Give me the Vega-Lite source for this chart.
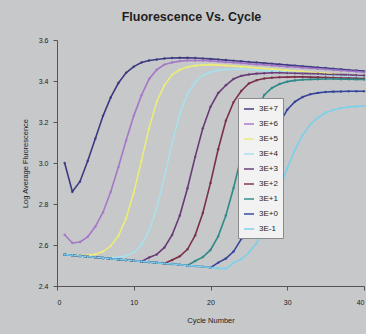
{
  "$schema": "https://vega.github.io/schema/vega-lite/v6.json",
  "width": 307,
  "height": 246,
  "autosize": {"type": "none"},
  "padding": {"left": 57, "top": 40, "right": 2, "bottom": 48},
  "background": "#c6c8ca",
  "title": {"text": "Fluorescence Vs. Cycle", "fontSize": 12.5, "fontWeight": "bold", "font": "Liberation Sans", "color": "#1e1e1e", "anchor": "middle", "dx": -19, "offset": 13},
  "data": {"values": [
    {"s":"3E+7","c":1,"v":3.00},{"s":"3E+7","c":2,"v":2.86},{"s":"3E+7","c":3,"v":2.91},{"s":"3E+7","c":4,"v":3.01},{"s":"3E+7","c":5,"v":3.12},{"s":"3E+7","c":6,"v":3.23},{"s":"3E+7","c":7,"v":3.32},{"s":"3E+7","c":8,"v":3.39},{"s":"3E+7","c":9,"v":3.44},{"s":"3E+7","c":10,"v":3.47},
    {"s":"3E+7","c":11,"v":3.49},{"s":"3E+7","c":12,"v":3.50},{"s":"3E+7","c":13,"v":3.505},{"s":"3E+7","c":14,"v":3.51},{"s":"3E+7","c":15,"v":3.512},{"s":"3E+7","c":16,"v":3.513},{"s":"3E+7","c":17,"v":3.513},{"s":"3E+7","c":18,"v":3.512},{"s":"3E+7","c":19,"v":3.51},{"s":"3E+7","c":20,"v":3.508},
    {"s":"3E+7","c":21,"v":3.505},{"s":"3E+7","c":22,"v":3.502},{"s":"3E+7","c":23,"v":3.499},{"s":"3E+7","c":24,"v":3.496},{"s":"3E+7","c":25,"v":3.493},{"s":"3E+7","c":26,"v":3.49},{"s":"3E+7","c":27,"v":3.487},{"s":"3E+7","c":28,"v":3.484},{"s":"3E+7","c":29,"v":3.481},{"s":"3E+7","c":30,"v":3.478},
    {"s":"3E+7","c":31,"v":3.475},{"s":"3E+7","c":32,"v":3.472},{"s":"3E+7","c":33,"v":3.469},{"s":"3E+7","c":34,"v":3.466},{"s":"3E+7","c":35,"v":3.463},{"s":"3E+7","c":36,"v":3.46},{"s":"3E+7","c":37,"v":3.457},{"s":"3E+7","c":38,"v":3.454},{"s":"3E+7","c":39,"v":3.451},{"s":"3E+7","c":40,"v":3.448},

    {"s":"3E+6","c":1,"v":2.65},{"s":"3E+6","c":2,"v":2.61},{"s":"3E+6","c":3,"v":2.615},{"s":"3E+6","c":4,"v":2.64},{"s":"3E+6","c":5,"v":2.69},{"s":"3E+6","c":6,"v":2.76},{"s":"3E+6","c":7,"v":2.86},{"s":"3E+6","c":8,"v":2.98},{"s":"3E+6","c":9,"v":3.11},{"s":"3E+6","c":10,"v":3.23},
    {"s":"3E+6","c":11,"v":3.33},{"s":"3E+6","c":12,"v":3.41},{"s":"3E+6","c":13,"v":3.455},{"s":"3E+6","c":14,"v":3.48},{"s":"3E+6","c":15,"v":3.49},{"s":"3E+6","c":16,"v":3.497},{"s":"3E+6","c":17,"v":3.5},{"s":"3E+6","c":18,"v":3.5},{"s":"3E+6","c":19,"v":3.5},{"s":"3E+6","c":20,"v":3.498},
    {"s":"3E+6","c":21,"v":3.495},{"s":"3E+6","c":22,"v":3.492},{"s":"3E+6","c":23,"v":3.49},{"s":"3E+6","c":24,"v":3.487},{"s":"3E+6","c":25,"v":3.484},{"s":"3E+6","c":26,"v":3.481},{"s":"3E+6","c":27,"v":3.479},{"s":"3E+6","c":28,"v":3.476},{"s":"3E+6","c":29,"v":3.473},{"s":"3E+6","c":30,"v":3.47},
    {"s":"3E+6","c":31,"v":3.468},{"s":"3E+6","c":32,"v":3.465},{"s":"3E+6","c":33,"v":3.462},{"s":"3E+6","c":34,"v":3.46},{"s":"3E+6","c":35,"v":3.457},{"s":"3E+6","c":36,"v":3.454},{"s":"3E+6","c":37,"v":3.451},{"s":"3E+6","c":38,"v":3.449},{"s":"3E+6","c":39,"v":3.446},{"s":"3E+6","c":40,"v":3.443},

    {"s":"3E+5","c":1,"v":2.553},{"s":"3E+5","c":2,"v":2.55},{"s":"3E+5","c":3,"v":2.548},{"s":"3E+5","c":4,"v":2.55},{"s":"3E+5","c":5,"v":2.555},{"s":"3E+5","c":6,"v":2.568},{"s":"3E+5","c":7,"v":2.595},{"s":"3E+5","c":8,"v":2.645},{"s":"3E+5","c":9,"v":2.73},{"s":"3E+5","c":10,"v":2.855},
    {"s":"3E+5","c":11,"v":3.01},{"s":"3E+5","c":12,"v":3.17},{"s":"3E+5","c":13,"v":3.3},{"s":"3E+5","c":14,"v":3.38},{"s":"3E+5","c":15,"v":3.43},{"s":"3E+5","c":16,"v":3.455},{"s":"3E+5","c":17,"v":3.468},{"s":"3E+5","c":18,"v":3.475},{"s":"3E+5","c":19,"v":3.478},{"s":"3E+5","c":20,"v":3.48},
    {"s":"3E+5","c":21,"v":3.478},{"s":"3E+5","c":22,"v":3.476},{"s":"3E+5","c":23,"v":3.473},{"s":"3E+5","c":24,"v":3.47},{"s":"3E+5","c":25,"v":3.467},{"s":"3E+5","c":26,"v":3.464},{"s":"3E+5","c":27,"v":3.461},{"s":"3E+5","c":28,"v":3.458},{"s":"3E+5","c":29,"v":3.455},{"s":"3E+5","c":30,"v":3.452},
    {"s":"3E+5","c":31,"v":3.449},{"s":"3E+5","c":32,"v":3.446},{"s":"3E+5","c":33,"v":3.443},{"s":"3E+5","c":34,"v":3.44},{"s":"3E+5","c":35,"v":3.437},{"s":"3E+5","c":36,"v":3.434},{"s":"3E+5","c":37,"v":3.431},{"s":"3E+5","c":38,"v":3.428},{"s":"3E+5","c":39,"v":3.425},{"s":"3E+5","c":40,"v":3.422},

    {"s":"3E+4","c":1,"v":2.553},{"s":"3E+4","c":2,"v":2.55},{"s":"3E+4","c":3,"v":2.546},{"s":"3E+4","c":4,"v":2.543},{"s":"3E+4","c":5,"v":2.54},{"s":"3E+4","c":6,"v":2.537},{"s":"3E+4","c":7,"v":2.538},{"s":"3E+4","c":8,"v":2.54},{"s":"3E+4","c":9,"v":2.547},{"s":"3E+4","c":10,"v":2.564},
    {"s":"3E+4","c":11,"v":2.6},{"s":"3E+4","c":12,"v":2.67},{"s":"3E+4","c":13,"v":2.78},{"s":"3E+4","c":14,"v":2.934},{"s":"3E+4","c":15,"v":3.097},{"s":"3E+4","c":16,"v":3.241},{"s":"3E+4","c":17,"v":3.338},{"s":"3E+4","c":18,"v":3.394},{"s":"3E+4","c":19,"v":3.428},{"s":"3E+4","c":20,"v":3.444},
    {"s":"3E+4","c":21,"v":3.452},{"s":"3E+4","c":22,"v":3.456},{"s":"3E+4","c":23,"v":3.458},{"s":"3E+4","c":24,"v":3.458},{"s":"3E+4","c":25,"v":3.456},{"s":"3E+4","c":26,"v":3.453},{"s":"3E+4","c":27,"v":3.451},{"s":"3E+4","c":28,"v":3.448},{"s":"3E+4","c":29,"v":3.446},{"s":"3E+4","c":30,"v":3.443},
    {"s":"3E+4","c":31,"v":3.441},{"s":"3E+4","c":32,"v":3.438},{"s":"3E+4","c":33,"v":3.436},{"s":"3E+4","c":34,"v":3.433},{"s":"3E+4","c":35,"v":3.431},{"s":"3E+4","c":36,"v":3.428},{"s":"3E+4","c":37,"v":3.426},{"s":"3E+4","c":38,"v":3.423},{"s":"3E+4","c":39,"v":3.421},{"s":"3E+4","c":40,"v":3.418},

    {"s":"3E+3","c":1,"v":2.553},{"s":"3E+3","c":2,"v":2.55},{"s":"3E+3","c":3,"v":2.546},{"s":"3E+3","c":4,"v":2.543},{"s":"3E+3","c":5,"v":2.54},{"s":"3E+3","c":6,"v":2.537},{"s":"3E+3","c":7,"v":2.533},{"s":"3E+3","c":8,"v":2.53},{"s":"3E+3","c":9,"v":2.527},{"s":"3E+3","c":10,"v":2.523},
    {"s":"3E+3","c":11,"v":2.52},{"s":"3E+3","c":12,"v":2.539},{"s":"3E+3","c":13,"v":2.554},{"s":"3E+3","c":14,"v":2.588},{"s":"3E+3","c":15,"v":2.649},{"s":"3E+3","c":16,"v":2.744},{"s":"3E+3","c":17,"v":2.877},{"s":"3E+3","c":18,"v":3.03},{"s":"3E+3","c":19,"v":3.169},{"s":"3E+3","c":20,"v":3.274},
    {"s":"3E+3","c":21,"v":3.341},{"s":"3E+3","c":22,"v":3.379},{"s":"3E+3","c":23,"v":3.41},{"s":"3E+3","c":24,"v":3.425},{"s":"3E+3","c":25,"v":3.432},{"s":"3E+3","c":26,"v":3.436},{"s":"3E+3","c":27,"v":3.438},{"s":"3E+3","c":28,"v":3.44},{"s":"3E+3","c":29,"v":3.44},{"s":"3E+3","c":30,"v":3.439},
    {"s":"3E+3","c":31,"v":3.438},{"s":"3E+3","c":32,"v":3.437},{"s":"3E+3","c":33,"v":3.436},{"s":"3E+3","c":34,"v":3.435},{"s":"3E+3","c":35,"v":3.433},{"s":"3E+3","c":36,"v":3.432},{"s":"3E+3","c":37,"v":3.431},{"s":"3E+3","c":38,"v":3.43},{"s":"3E+3","c":39,"v":3.428},{"s":"3E+3","c":40,"v":3.427},

    {"s":"3E+2","c":1,"v":2.553},{"s":"3E+2","c":2,"v":2.55},{"s":"3E+2","c":3,"v":2.546},{"s":"3E+2","c":4,"v":2.543},{"s":"3E+2","c":5,"v":2.54},{"s":"3E+2","c":6,"v":2.537},{"s":"3E+2","c":7,"v":2.533},{"s":"3E+2","c":8,"v":2.53},{"s":"3E+2","c":9,"v":2.527},{"s":"3E+2","c":10,"v":2.523},
    {"s":"3E+2","c":11,"v":2.52},{"s":"3E+2","c":12,"v":2.517},{"s":"3E+2","c":13,"v":2.513},{"s":"3E+2","c":14,"v":2.51},{"s":"3E+2","c":15,"v":2.527},{"s":"3E+2","c":16,"v":2.545},{"s":"3E+2","c":17,"v":2.579},{"s":"3E+2","c":18,"v":2.647},{"s":"3E+2","c":19,"v":2.756},{"s":"3E+2","c":20,"v":2.903},
    {"s":"3E+2","c":21,"v":3.067},{"s":"3E+2","c":22,"v":3.206},{"s":"3E+2","c":23,"v":3.297},{"s":"3E+2","c":24,"v":3.351},{"s":"3E+2","c":25,"v":3.388},{"s":"3E+2","c":26,"v":3.404},{"s":"3E+2","c":27,"v":3.412},{"s":"3E+2","c":28,"v":3.416},{"s":"3E+2","c":29,"v":3.418},{"s":"3E+2","c":30,"v":3.419},
    {"s":"3E+2","c":31,"v":3.42},{"s":"3E+2","c":32,"v":3.42},{"s":"3E+2","c":33,"v":3.419},{"s":"3E+2","c":34,"v":3.418},{"s":"3E+2","c":35,"v":3.417},{"s":"3E+2","c":36,"v":3.416},{"s":"3E+2","c":37,"v":3.415},{"s":"3E+2","c":38,"v":3.414},{"s":"3E+2","c":39,"v":3.413},{"s":"3E+2","c":40,"v":3.412},

    {"s":"3E+1","c":1,"v":2.553},{"s":"3E+1","c":2,"v":2.55},{"s":"3E+1","c":3,"v":2.546},{"s":"3E+1","c":4,"v":2.543},{"s":"3E+1","c":5,"v":2.54},{"s":"3E+1","c":6,"v":2.537},{"s":"3E+1","c":7,"v":2.533},{"s":"3E+1","c":8,"v":2.53},{"s":"3E+1","c":9,"v":2.527},{"s":"3E+1","c":10,"v":2.523},
    {"s":"3E+1","c":11,"v":2.52},{"s":"3E+1","c":12,"v":2.517},{"s":"3E+1","c":13,"v":2.513},{"s":"3E+1","c":14,"v":2.51},{"s":"3E+1","c":15,"v":2.507},{"s":"3E+1","c":16,"v":2.504},{"s":"3E+1","c":17,"v":2.5},{"s":"3E+1","c":18,"v":2.522},{"s":"3E+1","c":19,"v":2.541},{"s":"3E+1","c":20,"v":2.576},
    {"s":"3E+1","c":21,"v":2.642},{"s":"3E+1","c":22,"v":2.744},{"s":"3E+1","c":23,"v":2.878},{"s":"3E+1","c":24,"v":3.029},{"s":"3E+1","c":25,"v":3.161},{"s":"3E+1","c":26,"v":3.255},{"s":"3E+1","c":27,"v":3.332},{"s":"3E+1","c":28,"v":3.366},{"s":"3E+1","c":29,"v":3.385},{"s":"3E+1","c":30,"v":3.397},
    {"s":"3E+1","c":31,"v":3.403},{"s":"3E+1","c":32,"v":3.406},{"s":"3E+1","c":33,"v":3.408},{"s":"3E+1","c":34,"v":3.409},{"s":"3E+1","c":35,"v":3.41},{"s":"3E+1","c":36,"v":3.41},{"s":"3E+1","c":37,"v":3.409},{"s":"3E+1","c":38,"v":3.409},{"s":"3E+1","c":39,"v":3.408},{"s":"3E+1","c":40,"v":3.407},

    {"s":"3E+0","c":1,"v":2.553},{"s":"3E+0","c":2,"v":2.55},{"s":"3E+0","c":3,"v":2.546},{"s":"3E+0","c":4,"v":2.543},{"s":"3E+0","c":5,"v":2.54},{"s":"3E+0","c":6,"v":2.537},{"s":"3E+0","c":7,"v":2.533},{"s":"3E+0","c":8,"v":2.53},{"s":"3E+0","c":9,"v":2.527},{"s":"3E+0","c":10,"v":2.523},
    {"s":"3E+0","c":11,"v":2.52},{"s":"3E+0","c":12,"v":2.517},{"s":"3E+0","c":13,"v":2.513},{"s":"3E+0","c":14,"v":2.51},{"s":"3E+0","c":15,"v":2.507},{"s":"3E+0","c":16,"v":2.504},{"s":"3E+0","c":17,"v":2.5},{"s":"3E+0","c":18,"v":2.497},{"s":"3E+0","c":19,"v":2.494},{"s":"3E+0","c":20,"v":2.49},
    {"s":"3E+0","c":21,"v":2.514},{"s":"3E+0","c":22,"v":2.534},{"s":"3E+0","c":23,"v":2.568},{"s":"3E+0","c":24,"v":2.629},{"s":"3E+0","c":25,"v":2.72},{"s":"3E+0","c":26,"v":2.843},{"s":"3E+0","c":27,"v":2.977},{"s":"3E+0","c":28,"v":3.101},{"s":"3E+0","c":29,"v":3.194},{"s":"3E+0","c":30,"v":3.26},
    {"s":"3E+0","c":31,"v":3.299},{"s":"3E+0","c":32,"v":3.322},{"s":"3E+0","c":33,"v":3.335},{"s":"3E+0","c":34,"v":3.342},{"s":"3E+0","c":35,"v":3.346},{"s":"3E+0","c":36,"v":3.348},{"s":"3E+0","c":37,"v":3.349},{"s":"3E+0","c":38,"v":3.35},{"s":"3E+0","c":39,"v":3.35},{"s":"3E+0","c":40,"v":3.35},

    {"s":"3E-1","c":1,"v":2.553},{"s":"3E-1","c":2,"v":2.55},{"s":"3E-1","c":3,"v":2.546},{"s":"3E-1","c":4,"v":2.543},{"s":"3E-1","c":5,"v":2.54},{"s":"3E-1","c":6,"v":2.537},{"s":"3E-1","c":7,"v":2.533},{"s":"3E-1","c":8,"v":2.53},{"s":"3E-1","c":9,"v":2.527},{"s":"3E-1","c":10,"v":2.523},
    {"s":"3E-1","c":11,"v":2.52},{"s":"3E-1","c":12,"v":2.517},{"s":"3E-1","c":13,"v":2.513},{"s":"3E-1","c":14,"v":2.51},{"s":"3E-1","c":15,"v":2.507},{"s":"3E-1","c":16,"v":2.504},{"s":"3E-1","c":17,"v":2.5},{"s":"3E-1","c":18,"v":2.497},{"s":"3E-1","c":19,"v":2.494},{"s":"3E-1","c":20,"v":2.49},
    {"s":"3E-1","c":21,"v":2.487},{"s":"3E-1","c":22,"v":2.484},{"s":"3E-1","c":23,"v":2.513},{"s":"3E-1","c":24,"v":2.531},{"s":"3E-1","c":25,"v":2.562},{"s":"3E-1","c":26,"v":2.609},{"s":"3E-1","c":27,"v":2.677},{"s":"3E-1","c":28,"v":2.766},{"s":"3E-1","c":29,"v":2.871},{"s":"3E-1","c":30,"v":2.975},
    {"s":"3E-1","c":31,"v":3.064},{"s":"3E-1","c":32,"v":3.135},{"s":"3E-1","c":33,"v":3.189},{"s":"3E-1","c":34,"v":3.221},{"s":"3E-1","c":35,"v":3.245},{"s":"3E-1","c":36,"v":3.259},{"s":"3E-1","c":37,"v":3.268},{"s":"3E-1","c":38,"v":3.273},{"s":"3E-1","c":39,"v":3.276},{"s":"3E-1","c":40,"v":3.278}
  ]},
  "encoding": {
    "x": {"field": "c", "type": "quantitative", "scale": {"domain": [0, 40], "nice": false},
          "axis": {"title": "Cycle Number", "values": [0, 10, 20, 30, 40], "labelPadding": 8, "titlePadding": 11}},
    "y": {"field": "v", "type": "quantitative", "scale": {"domain": [2.4, 3.6], "nice": false, "zero": false},
          "axis": {"title": "Log Average Fluorescence", "values": [2.4, 2.6, 2.8, 3.0, 3.2, 3.4, 3.6], "format": ".1f", "labelPadding": 5, "titlePadding": 9}},
    "color": {"field": "s", "type": "nominal",
      "scale": {"domain": ["3E+7", "3E+6", "3E+5", "3E+4", "3E+3", "3E+2", "3E+1", "3E+0", "3E-1"],
                "range": ["#3c3a80", "#a478c8", "#ecec78", "#a8e0ec", "#6a3a78", "#7c3048", "#2f8a88", "#34449a", "#7cd0ea"]},
      "legend": {"title": null, "orient": "none", "legendX": 181, "legendY": 58, "fillColor": "#f2f2f2", "strokeColor": "#8a8a8a", "padding": 5, "rowPadding": 5, "symbolType": "stroke", "symbolSize": 100, "symbolStrokeWidth": 1.6, "labelFontSize": 8, "labelFont": "Liberation Sans", "labelColor": "#222222", "labelOffset": 4}}
  },
  "layer": [
    {"mark": {"type": "line", "strokeWidth": 1.6}, "encoding": {}},
    {"mark": {"type": "point", "filled": true, "size": 6, "opacity": 0.9}, "encoding": {}}
  ],
  "config": {
    "view": {"stroke": null},
    "axis": {"grid": false, "domainColor": "#555555", "tickColor": "#555555", "tickSize": 4, "labelColor": "#222222", "titleColor": "#222222", "labelFont": "Liberation Sans", "titleFont": "Liberation Sans", "labelFontSize": 7, "titleFontSize": 7.5, "titleFontWeight": "normal"}
  }
}
